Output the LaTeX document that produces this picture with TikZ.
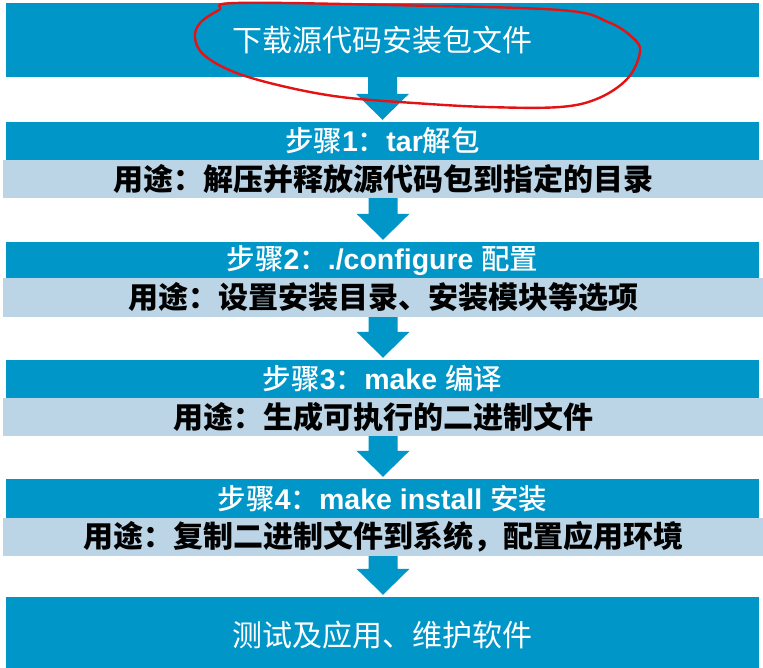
\documentclass[tikz,border=0pt]{standalone}
\usepackage{fontspec}
\usetikzlibrary{calc}
\newfontfamily\cjk{Noto Sans CJK SC}
\newfontfamily\cjkmed{Noto Sans CJK SC Medium}
\newfontfamily\cjkblack{Noto Sans CJK SC Black}
\newfontfamily\lat{Liberation Sans}
\definecolor{boxblue}{RGB}{0,150,200}
\definecolor{bandblue}{RGB}{187,213,230}
\definecolor{penred}{RGB}{228,18,18}
\tikzset{
  bluebox/.style={fill=boxblue, draw=none, minimum width=753pt, inner sep=0pt, text=white},
  bandbox/.style={fill=bandblue, draw=none, minimum width=760pt, minimum height=38pt, inner sep=0pt, text=black},
  endtext/.style={font=\cjk\fontsize{30}{34}\selectfont},
  titletext/.style={font=\fontsize{28.5}{31}\selectfont, minimum height=38pt},
  usetext/.style={font=\cjkblack\fontsize{30}{34}\selectfont},
  blockarrow/.style={to path={let \p1=(\tikztostart), \p2=(\tikztotarget) in
     (\x1-14.5pt,\y1) -- (\x1+14.5pt,\y1) -- (\x1+14.5pt,\y2+28pt) -- (\x1+26.5pt,\y2+28pt)
     -- (\x1,\y2+2pt) -- (\x1-26.5pt,\y2+28pt) -- (\x1-14.5pt,\y2+28pt) -- cycle}},
  arrowfill/.style={fill=boxblue, draw=none}
}
\newcommand{\zh}[1]{{\cjkmed #1}}
\newcommand{\en}[1]{{\lat\bfseries #1}}
\begin{document}
\begin{tikzpicture}[x=1pt,y=-1pt]
\useasboundingbox[fill=white] (0,0) rectangle (763,667);
% top box
\node[bluebox, endtext, minimum height=74pt] (n0) at (382.5,40) {下载源代码安装包文件};
% step 1
\node[bluebox, titletext] (t1) at (382.5,141) {\zh{步骤}\en{1}\zh{：}\en{tar}\zh{解包}};
\node[bandbox, usetext] (u1) at (383,179) {用途：解压并释放源代码包到指定的目录};
% step 2
\node[bluebox, titletext, minimum height=36pt] (t2) at (382.5,260) {\zh{步骤}\en{2}\zh{：}\en{./configure }\zh{配置}};
\node[bandbox, usetext, minimum height=39pt] (u2) at (383,297.5) {用途：设置安装目录、安装模块等选项};
% step 3
\node[bluebox, titletext] (t3) at (382.5,379) {\zh{步骤}\en{3}\zh{：}\en{make }\zh{编译}};
\node[bandbox, usetext] (u3) at (383,417) {用途：生成可执行的二进制文件};
% step 4
\node[bluebox, titletext, minimum height=39pt] (t4) at (382.5,498.5) {\zh{步骤}\en{4}\zh{：}\en{make install }\zh{安装}};
\node[bandbox, usetext] (u4) at (383,537) {用途：复制二进制文件到系统，配置应用环境};
% bottom box
\node[bluebox, endtext, minimum height=76pt] (n5) at (382.5,635) {测试及应用、维护软件};
% arrows
\fill[arrowfill] (n0.south) to[blockarrow] (t1.north);
\fill[arrowfill] (u1.south) to[blockarrow] (t2.north);
\fill[arrowfill] (u2.south) to[blockarrow] (t3.north);
\fill[arrowfill] (u3.south) to[blockarrow] (t4.north);
\fill[arrowfill] (u4.south) to[blockarrow] (n5.north);
% red hand-drawn ellipse
\draw[penred, line width=2.4pt, line cap=round, line join=round]
  plot[smooth cycle, tension=0.6] coordinates {
   (236,3) (389,5) (560,10) (608,22) (633,38) (640,52) (628,78) (599,98)
   (560,107) (487,107) (414,103) (341,97) (282,86) (234,72) (204,55)
   (195,38) (200,23) (219,10)};
\end{tikzpicture}
\end{document}
